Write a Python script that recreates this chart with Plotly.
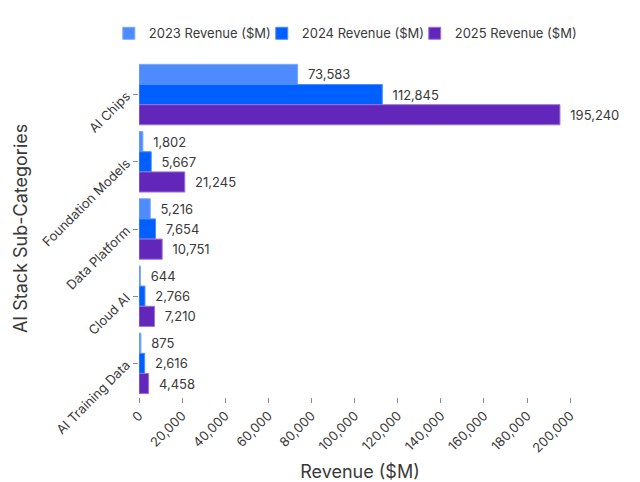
import plotly.graph_objects as go

categories = ["AI Chips", "Foundation Models", "Data Platform", "Cloud AI", "AI Training Data"]
rev_2023 = [73583, 1802, 5216, 644, 875]
rev_2024 = [112845, 5667, 7654, 2766, 2616]
rev_2025 = [195240, 21245, 10751, 7210, 4458]
series_names = ["2023 Revenue ($M)", "2024 Revenue ($M)", "2025 Revenue ($M)"]
colors = ["#4d8bff", "#0060ff", "#6226ba"]
line_colors = ["#7aa8ff", "#4d8bff", "#9a75d6"]
x_ticks = list(range(0, 200001, 20000))

legend_ids = ["legend", "legend2", "legend3"]
legend_x = [0.17, 0.409, 0.648]

fig = go.Figure()
for name, vals, c, lc, lid in zip(series_names, [rev_2023, rev_2024, rev_2025], colors, line_colors, legend_ids):
    fig.add_trace(go.Bar(
        y=categories, x=vals, name=name, orientation="h",
        marker=dict(color=c, line=dict(color=lc, width=1)),
        text=["\u00a0\u00a0" + f"{v:,}" for v in vals], textposition="outside",
        textfont=dict(size=13, color="#393939"), cliponaxis=False,
        legend=lid,
    ))

legend_common = dict(orientation="h", xanchor="left", y=0.962, yanchor="top",
                     yref="container", xref="container", font=dict(size=13),
                     bgcolor="rgba(0,0,0,0)")
fig.update_layout(
    width=640, height=482,
    font=dict(family="Inter, Open Sans, sans-serif", color="#393939"),
    paper_bgcolor="white", plot_bgcolor="white",
    barmode="group", bargap=0.1, bargroupgap=0,
    margin=dict(l=139, r=59, t=61, b=85, autoexpand=False),
    legend=dict(x=legend_x[0], **legend_common),
    legend2=dict(x=legend_x[1], **legend_common),
    legend3=dict(x=legend_x[2], **legend_common),
    showlegend=True,
    annotations=[dict(text="AI Stack Sub-Categories", textangle=-90, xref="paper", yref="paper",
                      x=-0.269, y=0.5, xanchor="center", yanchor="middle", showarrow=False,
                      font=dict(size=18, color="#393939"))],
)
fig.update_xaxes(
    range=[0, 205000], tickvals=x_ticks, tickformat=",", tickangle=-45,
    showgrid=False, zeroline=False, showline=False, automargin=False,
    ticks="outside", ticklen=5, tickcolor="#8d8d8d",
    tickfont=dict(size=13),
    title=dict(text="Revenue ($M)", font=dict(size=18)),
)
fig.update_yaxes(
    autorange="reversed", tickangle=-45, automargin=False,
    showgrid=False, zeroline=False, showline=False,
    ticks="outside", ticklen=5, tickcolor="#8d8d8d", ticklabelstandoff=4,
    tickfont=dict(size=13),
)
fig.write_html("out.html")
